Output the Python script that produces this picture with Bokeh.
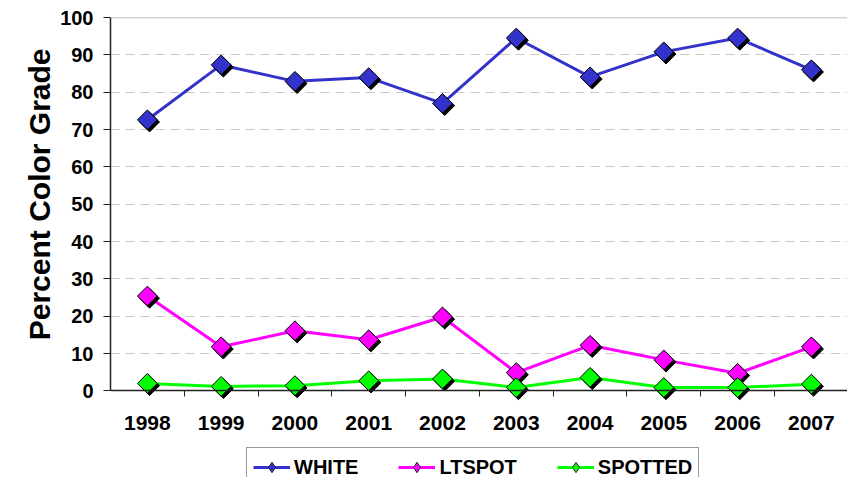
from bokeh.plotting import figure
from bokeh.models import (Range1d, FixedTicker, Span, Legend, LegendItem,
                          ColumnDataSource, Title)
from bokeh.transform import dodge
from bokeh.embed import file_html
from bokeh.resources import INLINE

years = [1998, 1999, 2000, 2001, 2002, 2003, 2004, 2005, 2006, 2007]
white = [72.6, 87.3, 82.9, 83.9, 77.0, 94.5, 84.1, 90.8, 94.5, 86.0]
ltspot = [25.4, 11.8, 16.1, 13.7, 19.8, 4.9, 12.2, 8.3, 4.7, 11.8]
spotted = [2.0, 1.2, 1.4, 2.7, 3.2, 0.9, 3.6, 0.9, 0.9, 1.8]
y_ticks = [0, 10, 20, 30, 40, 50, 60, 70, 80, 90, 100]

series = [
    ("WHITE", white, "#3333CC"),
    ("LTSPOT", ltspot, "#FF00FF"),
    ("SPOTTED", spotted, "#00FF00"),
]

FONT = "Liberation Sans"

# frame spans 110..847 x 17..477; values 0..100 occupy 390..17
p = figure(width=847, height=477, output_backend="svg", toolbar_location=None,
           x_range=Range1d(1997.5, 2007.49), y_range=Range1d(-23.2, 100),
           min_border_left=110, min_border_right=0, min_border_top=17,
           min_border_bottom=0)
p.outline_line_color = None
p.background_fill_color = "white"
p.border_fill_color = "white"

# grid
p.xgrid.grid_line_color = None
p.ygrid.grid_line_color = "#C8C8C8"
p.ygrid.grid_line_dash = "9 6"
p.ygrid.grid_line_width = 1
p.add_layout(Span(location=y_ticks[-1], dimension="width",
                  line_color="#A8A8A8", line_width=1.5))

# x axis drawn at y = 0 inside the frame
xax = p.xaxis[0]
xax.fixed_location = 0
xax.ticker = FixedTicker(ticks=years, minor_ticks=[y + 0.5 for y in years])
xax.major_tick_out = 0
xax.major_tick_in = 0
xax.minor_tick_out = 6
xax.minor_tick_in = 0
xax.minor_tick_line_color = "#222222"
xax.minor_tick_line_width = 1
xax.axis_line_color = "#222222"
xax.axis_line_width = 1.5
xax.major_label_text_font = FONT
xax.major_label_text_font_style = "bold"
xax.major_label_text_font_size = "21px"
xax.major_label_text_color = "black"
xax.major_label_standoff = 19

# y axis
yax = p.yaxis[0]
yax.bounds = (y_ticks[0], y_ticks[-1])
yax.ticker = FixedTicker(ticks=y_ticks)
yax.major_tick_out = 7
yax.major_tick_in = 0
yax.minor_tick_line_color = None
yax.major_tick_line_color = "#222222"
yax.axis_line_color = "#222222"
yax.axis_line_width = 1.5
yax.major_label_text_font = FONT
yax.major_label_text_font_style = "bold"
yax.major_label_text_font_size = "20px"
yax.major_label_text_color = "black"
yax.major_label_standoff = 10

ytitle = Title(text="Percent Color Grade", align="right", offset=31,
               text_font=FONT, text_font_style="bold", text_font_size="30px",
               text_color="black", standoff=4)
p.add_layout(ytitle, "left")

items = []
for name, vals, color in series:
    src = ColumnDataSource(dict(x=years, y=vals))
    ln = p.line("x", "y", source=src, line_color=color, line_width=3)
    p.scatter(x=dodge("x", 0.03), y=dodge("y", -0.6), source=src,
              marker="square", size=14, angle=0.785398,
              fill_color="black", line_color="black")
    p.scatter("x", "y", source=src, marker="square", size=14,
              angle=0.785398, fill_color=color, line_color="black",
              line_width=1)
    # legend-only glyph (diamond), not shown on the plot
    lg = p.scatter("x", "y", source=src, marker="diamond", size=12,
                   fill_color=color, line_color="#222222", line_width=1,
                   visible=False)
    items.append(LegendItem(label=name, renderers=[ln, lg]))

legend = Legend(items=items, orientation="horizontal", location=(136, -10),
                label_text_font=FONT, label_text_font_style="bold",
                label_text_font_size="20px", label_text_color="black",
                glyph_width=37, glyph_height=26, label_standoff=4,
                spacing=40, padding=6, margin=0,
                border_line_color="#333333", border_line_width=1,
                background_fill_color="white", background_fill_alpha=1)
p.add_layout(legend, "center")

open("out.html", "w").write(file_html(p, INLINE))
